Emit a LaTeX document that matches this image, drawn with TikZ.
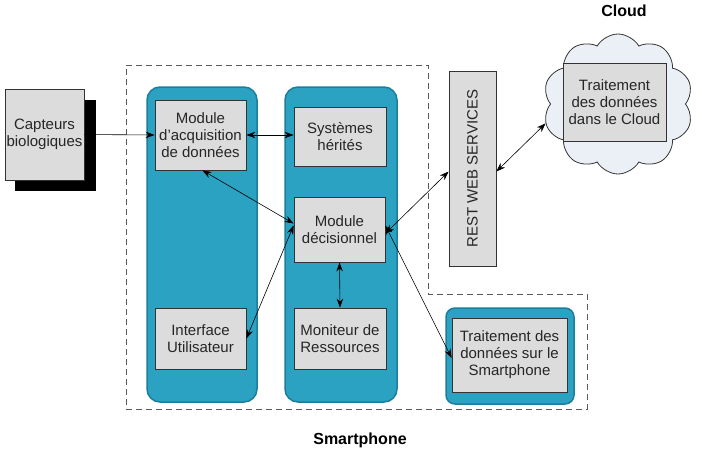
\documentclass[tikz,border=0pt]{standalone}
\usepackage{fontspec}
\setmainfont{Liberation Sans}
\usetikzlibrary{arrows.meta,shapes.symbols}
\definecolor{teal1}{HTML}{2BA2C2}
\definecolor{teal2}{HTML}{1C7E9A}
\definecolor{boxgray}{HTML}{DCDCDC}
\definecolor{cloudfill}{HTML}{EBF0F6}
\tikzset{
  txt/.style={font=\fontsize{15}{17}\selectfont, align=center, text=black!85},
  gbox/.style={txt, draw=black!80, fill=boxgray, line width=0.8pt, inner sep=0pt},
  col/.style={draw=teal2, fill=teal1, line width=1.5pt, rounded corners=13pt},
  con/.style={line width=0.6pt, {Stealth[length=9pt,width=6.5pt]}-{Stealth[length=9pt,width=6.5pt]}},
  con1/.style={line width=0.6pt, -{Stealth[length=9pt,width=6.5pt]}},
}
\begin{document}
\begin{tikzpicture}[x=1pt,y=-1pt]
\useasboundingbox (0,0) rectangle (702,472);
% dashed boundary
\draw[gray!70!black, line width=1pt, dash pattern=on 6pt off 4pt]
  (126,65) -- (428,65) -- (428,294) -- (587,294) -- (587,409) -- (126,409) -- cycle;
% columns
\draw[col] (147,87) rectangle (257,402);
\draw[col] (285,87) rectangle (397,402);
\draw[col, rounded corners=9pt] (446,308) rectangle (574,404);
% Capteurs
\fill[black] (15,100) rectangle (96,191);
\node[gbox, minimum width=79pt, minimum height=91pt] (cap) at (44.5,134.5) {Capteurs\\biologiques};
% inner boxes
\node[gbox, minimum width=91pt, minimum height=70pt] (acq) at (200.5,135) {Module\\d’acquisition\\de données};
\node[gbox, minimum width=92pt, minimum height=59pt] (sys) at (340,136.5) {Systèmes\\hérités};
\node[gbox, minimum width=91pt, minimum height=65pt] (dec) at (339.5,229.5) {Module\\décisionnel};
\node[gbox, minimum width=91pt, minimum height=61pt] (ui) at (200.5,338.5) {Interface\\Utilisateur};
\node[gbox, minimum width=92pt, minimum height=61pt] (mon) at (340,338.5) {Moniteur de\\Ressources};
\node[gbox, minimum width=115pt, minimum height=74pt] (tsm) at (509.5,355) {Traitement des\\données sur le\\Smartphone};
% REST
\node[gbox, minimum width=47pt, minimum height=195pt] (rest) at (472.5,168.5) {};
\node[txt, rotate=90] (resttxt) at (rest.center) {REST WEB SERVICES};
% cloud
\node[cloud, cloud puffs=10, cloud puff arc=120, aspect=1.1, draw=black!80, fill=cloudfill, line width=0.8pt, minimum width=150pt, minimum height=140pt] (cloud) at (618,104) {};
\node[gbox, minimum width=103pt, minimum height=78pt] (tcl) at (614.5,102) {Traitement\\des données\\dans le Cloud};
% titles
\node[font=\fontsize{16}{18}\selectfont\bfseries] (tc) at (624,11) {Cloud};
\node[font=\fontsize{16}{18}\selectfont\bfseries] (ts) at (360,440) {Smartphone};
% connectors
\draw[con1] (cap.east) -- (acq.west);
\draw[con] (acq.east) -- (acq.east -| sys.west);
\draw[con] ([xshift=2pt]acq.south) -- ([yshift=6pt]dec.west);
\draw[con] (ui.east) -- ([yshift=4pt]dec.west);
\draw[con] (dec.south) -- (mon.north);
\draw[con] ([yshift=-4pt]dec.east) -- ([yshift=-3pt]rest.west);
\draw[con] ([yshift=4pt]dec.east) -- ([yshift=-3pt]tsm.west);
\draw[con] ([yshift=-3pt]rest.east) -- (cloud.195);
\end{tikzpicture}
\end{document}
